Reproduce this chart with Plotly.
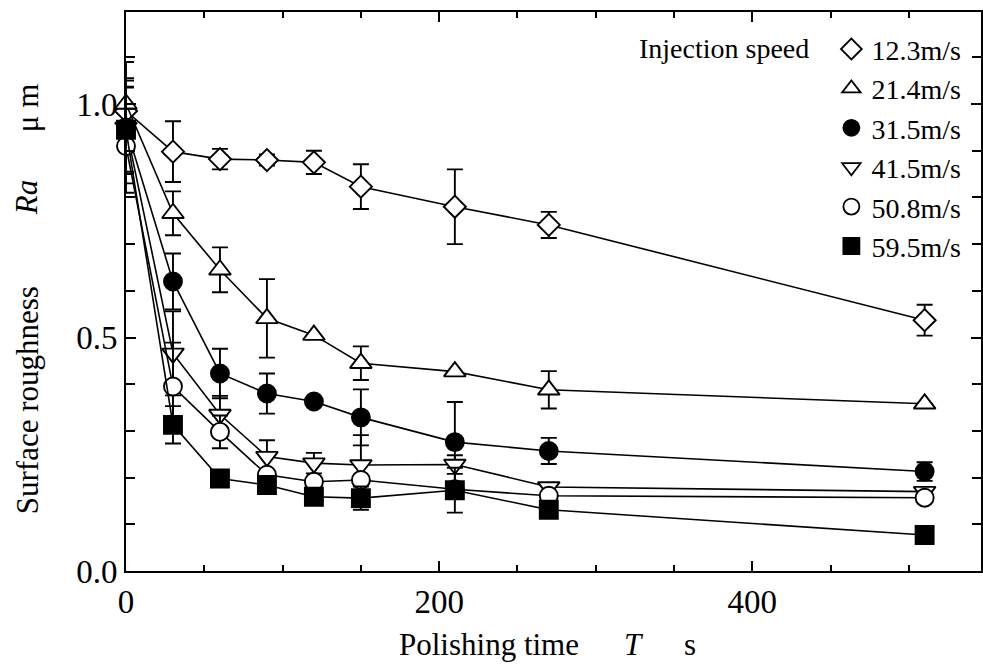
import plotly.graph_objects as go

# ---- data ----
polish_time = [0, 30, 60, 90, 120, 150, 210, 270, 510]

speed_labels = ["12.3m/s", "21.4m/s", "31.5m/s", "41.5m/s", "50.8m/s", "59.5m/s"]

ra_12_3 = [0.985, 0.898, 0.882, 0.880, 0.875, 0.823, 0.780, 0.741, 0.537]
err_12_3 = [0.07, 0.065, 0.022, 0.012, 0.025, 0.048, 0.08, 0.028, 0.033]

ra_21_4 = [1.0, 0.766, 0.645, 0.541, 0.505, 0.445, 0.427, 0.388, 0.358]
err_21_4 = [0.037, 0.047, 0.048, 0.084, 0.0, 0.036, 0.0, 0.04, 0.0]

ra_31_5 = [0.95, 0.62, 0.423, 0.38, 0.363, 0.329, 0.276, 0.257, 0.213]
err_31_5 = [0.1, 0.06, 0.053, 0.043, 0.0, 0.06, 0.086, 0.028, 0.02]

ra_41_5 = [0.95, 0.466, 0.335, 0.245, 0.231, 0.227, 0.228, 0.18, 0.17]
err_41_5 = [0.14, 0.09, 0.04, 0.035, 0.022, 0.064, 0.02, 0.0, 0.0]

ra_50_8 = [0.91, 0.395, 0.298, 0.206, 0.191, 0.195, 0.175, 0.161, 0.157]
err_50_8 = [0.08, 0.094, 0.035, 0.0, 0.0, 0.0, 0.0, 0.0, 0.0]

ra_59_5 = [0.945, 0.313, 0.198, 0.184, 0.159, 0.156, 0.173, 0.131, 0.077]
err_59_5 = [0.09, 0.04, 0.0, 0.0, 0.0, 0.025, 0.048, 0.0, 0.0]

x_ticks = [0, 200, 400]
y_ticks = [0.0, 0.5, 1.0]

series = [
    (ra_12_3, err_12_3, "diamond", "white", 17),
    (ra_21_4, err_21_4, "triangle-up", "white", 19),
    (ra_31_5, err_31_5, "circle", "black", 18),
    (ra_41_5, err_41_5, "triangle-down", "white", 19),
    (ra_50_8, err_50_8, "circle", "white", 18),
    (ra_59_5, err_59_5, "square", "black", 18),
]

FONT = "Liberation Serif, Times New Roman, serif"

fig = go.Figure()
for (vals, errs, sym, fill, size), lab in zip(series, speed_labels):
    fig.add_trace(go.Scatter(
        x=polish_time, y=vals, mode="lines+markers",
        line=dict(color="black", width=1.6),
        marker=dict(symbol=sym, size=size, color=fill, line=dict(color="black", width=1.9)),
        error_y=dict(type="data", array=errs, visible=True, color="black", thickness=1.9, width=8),
        showlegend=False, cliponaxis=False,
    ))
for i, ((vals, errs, sym, fill, size), lab) in enumerate(zip(series, speed_labels)):
    fig.add_trace(go.Scatter(
        x=[None], y=[None], mode="markers", name=lab, legendgroup=str(i),
        marker=dict(symbol=sym, size=16, color=fill, line=dict(color="black", width=1.8)),
        showlegend=True,
    ))

W = 983 - 126
H = 571 - 12
def px(xp):
    return (xp - 126) / W
def py(yp):
    return (571 - yp) / H

def ann(text, x, y, angle=0, size=31, anchor="center"):
    return dict(text=text, x=px(x), xref="paper", y=py(y), yref="paper",
                xanchor=anchor, yanchor="middle", showarrow=False, textangle=angle,
                font=dict(size=size, family=FONT, color="black"))

fig.update_layout(
    width=983, height=667,
    margin=dict(l=126, r=0, t=12, b=96),
    plot_bgcolor="white", paper_bgcolor="white",
    font=dict(family=FONT, color="black"),
    legend=dict(x=0.825, y=0.978, xanchor="left", yanchor="top",
                font=dict(size=28, family=FONT), bgcolor="rgba(0,0,0,0)",
                tracegroupgap=0, itemwidth=30, itemsizing="trace"),
    annotations=[
        ann("Injection speed", 813, 49, size=28, anchor="right"),
        ann("Polishing time", 490, 644),
        ann("<i>T</i>", 635, 644),
        ann("s", 691, 644),
        ann("Surface roughness", 27, 400, angle=-90),
        ann("<i>Ra</i>", 27, 198, angle=-90),
        ann("\u03bc m", 27, 108, angle=-90),
    ],
)

fig.update_xaxes(
    range=[0, 546], tickvals=x_ticks, ticktext=[str(v) for v in x_ticks],
    ticks="inside", ticklen=10, tickwidth=1.5, tickcolor="black",
    showline=True, linecolor="black", linewidth=2, mirror="ticks",
    showgrid=False, zeroline=False,
    tickfont=dict(size=33, family=FONT),
    minor=dict(dtick=50, ticks="inside", ticklen=6, tickwidth=1.5, tickcolor="black", showgrid=False),
)
fig.update_yaxes(
    range=[0, 1.197], tickvals=y_ticks, ticktext=[f"{v:.1f}" for v in y_ticks],
    ticks="inside", ticklen=10, tickwidth=1.5, tickcolor="black",
    showline=True, linecolor="black", linewidth=2, mirror="ticks",
    showgrid=False, zeroline=False,
    tickfont=dict(size=33, family=FONT),
    minor=dict(dtick=0.1, ticks="inside", ticklen=9, tickwidth=1.5, tickcolor="black", showgrid=False),
)

fig.write_html("out.html")
